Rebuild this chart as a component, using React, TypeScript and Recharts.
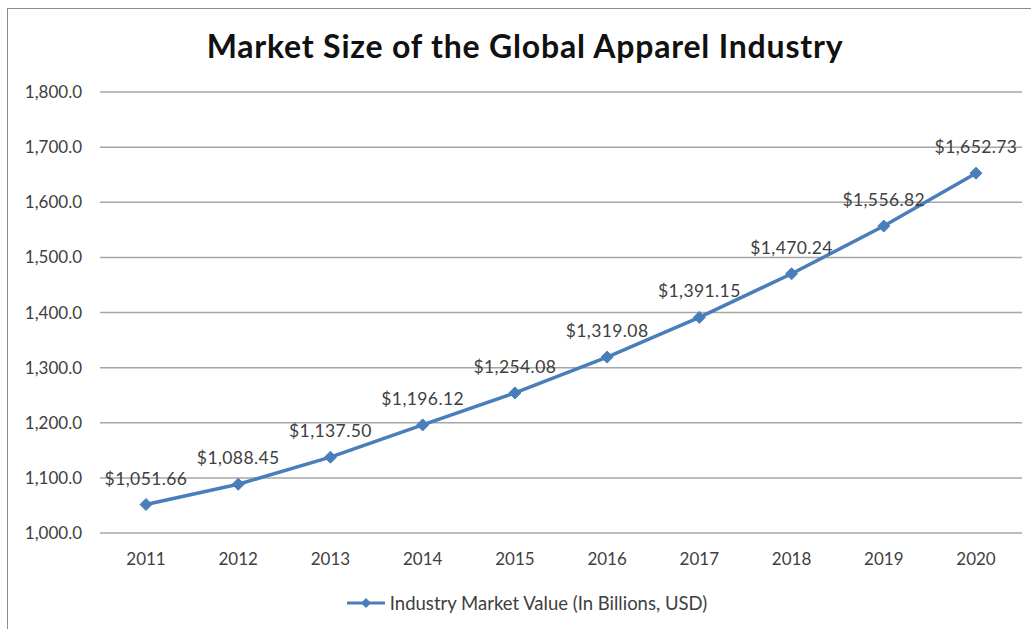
import React from "react";
import {
  LineChart,
  Line,
  XAxis,
  YAxis,
  CartesianGrid,
  Legend,
  LabelList,
} from "recharts";

const years = ["2011", "2012", "2013", "2014", "2015", "2016", "2017", "2018", "2019", "2020"];
const marketValues = [1051.66, 1088.45, 1137.5, 1196.12, 1254.08, 1319.08, 1391.15, 1470.24, 1556.82, 1652.73];
const yTicks = [1000, 1100, 1200, 1300, 1400, 1500, 1600, 1700, 1800];

const seriesName = "Industry Market Value (In Billions, USD)";
const lineColor = "#4A7EBB";
const font = "Lato, 'Open Sans', sans-serif";

const data = years.map((year, i) => ({ year, value: marketValues[i] }));

const fmtAxis = (v: number) =>
  v.toLocaleString("en-US", { minimumFractionDigits: 1, maximumFractionDigits: 1 });
const fmtLabel = (v: number) =>
  "$" + v.toLocaleString("en-US", { minimumFractionDigits: 2, maximumFractionDigits: 2 });

// Excel-style diamond marker
function Diamond(props: any) {
  const { cx, cy } = props;
  if (cx == null || cy == null) return null;
  const r = 6;
  return (
    <path
      d={`M${cx},${cy - r} L${cx + r},${cy} L${cx},${cy + r} L${cx - r},${cy} Z`}
      fill={lineColor}
      stroke={lineColor}
    />
  );
}

function LegendContent() {
  return (
    <div
      style={{
        display: "flex",
        justifyContent: "center",
        alignItems: "center",
        height: 28,
        fontFamily: font,
        fontSize: 18.5,
        color: "#404040",
        paddingLeft: 32,
      }}
    >
      <svg width={38} height={12} style={{ marginRight: 5 }}>
        <line x1={0} y1={6} x2={38} y2={6} stroke={lineColor} strokeWidth={3} />
        <path d="M19,1 L24,6 L19,11 L14,6 Z" fill={lineColor} />
      </svg>
      {seriesName}
    </div>
  );
}

export default function App() {
  return (
    <div
      style={{
        position: "absolute",
        left: 0,
        top: 0,
        width: 1031,
        height: 629,
        background: "#fff",
        overflow: "hidden",
        fontFamily: font,
      }}
    >
      <div
        style={{
          position: "absolute",
          left: 7,
          top: 8,
          width: 1040,
          height: 640,
          border: "1px solid #8c8c8c",
          boxSizing: "border-box",
        }}
      />
      <div
        style={{
          position: "absolute",
          left: 0,
          top: 26,
          width: 1050,
          textAlign: "center",
          fontSize: 32,
          letterSpacing: 0.8,
          fontWeight: 700,
          color: "#111",
          fontFamily: font,
        }}
      >
        Market Size of the Global Apparel Industry
      </div>
      <LineChart
        width={1031}
        height={629}
        data={data}
        margin={{ top: 92, right: 9, left: 0, bottom: 0 }}
        style={{ position: "absolute", left: 0, top: 0 }}
      >
        <CartesianGrid vertical={false} stroke="#a6a6a6" strokeWidth={1.5} />
        <XAxis
          dataKey="year"
          axisLine={false}
          tickLine={false}
          tickSize={0}
          tickMargin={20}
          height={56}
          padding={{ left: 46, right: 46 }}
          tick={{ fontSize: 17, fill: "#404040", fontFamily: font }}
        />
        <YAxis
          domain={[1000, 1800]}
          ticks={yTicks}
          width={100}
          axisLine={false}
          tickLine={false}
          tickSize={0}
          tickMargin={18}
          tickFormatter={fmtAxis}
          tick={{ fontSize: 17, fill: "#404040", fontFamily: font }}
        />
        <Legend verticalAlign="bottom" height={40} content={<LegendContent />} />
        <Line
          type="linear"
          dataKey="value"
          name={seriesName}
          stroke={lineColor}
          strokeWidth={3.5}
          dot={<Diamond />}
          activeDot={false}
          isAnimationActive={false}
        >
          <LabelList
            dataKey="value"
            position="top"
            offset={20}
            formatter={(v: any) => fmtLabel(Number(v))}
            style={{ fontSize: 17.5, letterSpacing: 0.4, fill: "#404040", fontFamily: font }}
          />
        </Line>
      </LineChart>
    </div>
  );
}
